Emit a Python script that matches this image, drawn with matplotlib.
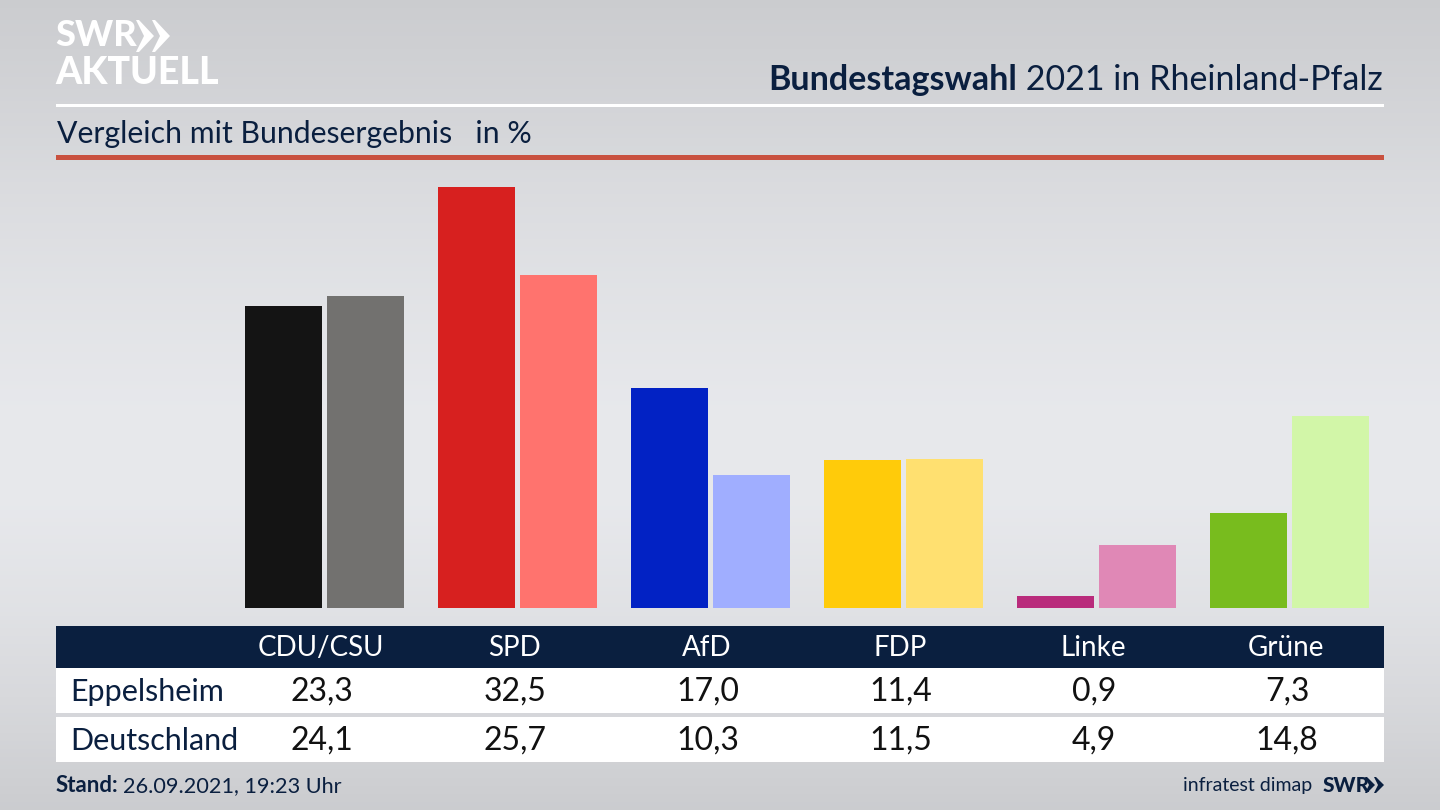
import numpy as np
import matplotlib
matplotlib.use('Agg')
import matplotlib.pyplot as plt
from matplotlib.patches import Rectangle, Polygon

parties = ['CDU/CSU', 'SPD', 'AfD', 'FDP', 'Linke', 'Grüne']
eppelsheim = [23.3, 32.5, 17.0, 11.4, 0.9, 7.3]
deutschland = [24.1, 25.7, 10.3, 11.5, 4.9, 14.8]
colors_local = ['#141414', '#d7201f', '#0222c4', '#ffcb0a', '#b92b7c', '#78bc1e']
colors_bund = ['#72716f', '#ff736e', '#a0aeff', '#ffe070', '#e088b6', '#d2f6a8']
row_names = ['Eppelsheim', 'Deutschland']

plt.rcParams['font.family'] = ['Lato', 'DejaVu Sans']
NAVY = '#0a1f3f'

fig = plt.figure(figsize=(14.4, 8.1), dpi=100)

# background, pixel coordinates
bg = fig.add_axes([0, 0, 1, 1])
bg.axis('off')
grad = np.array([0.81, 0.84, 0.875, 0.90, 0.92, 0.92, 0.895, 0.855, 0.81])
grad = np.interp(np.linspace(0, 8, 200), np.arange(9), grad)
img = np.stack([grad * 0.985, grad * 0.99, grad * 1.005], axis=1)[:, None, :]
bg.imshow(np.clip(img, 0, 1), extent=(0, 1440, 810, 0), aspect='auto')
bg.set_xlim(0, 1440)
bg.set_ylim(810, 0)

# logo
bg.text(55, 36, 'SWR', fontsize=26, fontweight='black', color='white', va='center')
bg.text(55, 73, 'AKTUELL', fontsize=27, fontweight='black', color='white', va='center')
for x0 in (136, 152):
    bg.add_patch(Polygon([(x0, 20), (x0 + 3, 20), (x0 + 18, 36), (x0 + 3, 52), (x0, 52), (x0 + 8, 36)], color='white', lw=0))

# header
t = bg.text(1383, 80, ' 2021 in Rheinland-Pfalz', fontsize=24.5, color=NAVY, ha='right', va='center')
fig.canvas.draw()
left = bg.transData.inverted().transform((t.get_window_extent().x0, 0))[0]
bg.text(left, 80, 'Bundestagswahl', fontsize=24.5, fontweight='bold', color=NAVY, ha='right', va='center')
bg.add_patch(Rectangle((56, 104), 1328, 3, color='white', lw=0))
bg.text(57, 134, 'Vergleich mit Bundesergebnis   in %', fontsize=21.8, color=NAVY, va='center')
bg.add_patch(Rectangle((56, 155), 1328, 5, color='#c9513f', lw=0))

# bars
ax = fig.add_axes([0, 1 - 608 / 810, 1, 448 / 810])
ax.set_xlim(0, 1440)
ax.set_ylim(0, 448 / 12.95)
ax.axis('off')
ax.patch.set_alpha(0)
centers = 321 + 193 * np.arange(len(parties))
ax.bar(centers - 37.5, eppelsheim, 77, color=colors_local)
ax.bar(centers + 44.5, deutschland, 77, color=colors_bund)

# table
bg.add_patch(Rectangle((56, 626), 1328, 42, color=NAVY, lw=0))
bg.add_patch(Rectangle((56, 668), 1328, 45, color='white', lw=0))
bg.add_patch(Rectangle((56, 717), 1328, 45, color='white', lw=0))
for c, p, a, b in zip(centers, parties, eppelsheim, deutschland):
    bg.text(c, 648, p, fontsize=20, color='white', ha='center', va='center')
    bg.text(c + 1, 692, f'{a:.1f}'.replace('.', ','), fontsize=23, color='#111', ha='center', va='center')
    bg.text(c + 1, 741, f'{b:.1f}'.replace('.', ','), fontsize=23, color='#111', ha='center', va='center')
for y, name in zip((692, 741), row_names):
    bg.text(70, y, name, fontsize=22, color=NAVY, va='center')

# footer
s = bg.text(56, 786, 'Stand:', fontsize=16, fontweight='bold', color=NAVY, va='center')
fig.canvas.draw()
sx = bg.transData.inverted().transform((s.get_window_extent().x1, 0))[0]
bg.text(sx + 4, 786, '26.09.2021, 19:23 Uhr', fontsize=15.6, color=NAVY, va='center')
bg.text(1312, 786, 'infratest dimap', fontsize=14, color=NAVY, ha='right', va='center')
bg.text(1323, 785, 'SWR', fontsize=15, fontweight='black', color=NAVY, va='center')
for x0 in (1365, 1374):
    bg.add_patch(Polygon([(x0, 777), (x0 + 2, 777), (x0 + 10, 785), (x0 + 2, 793), (x0, 793), (x0 + 4, 785)], color=NAVY, lw=0))

fig.savefig('out.png', dpi=100)
